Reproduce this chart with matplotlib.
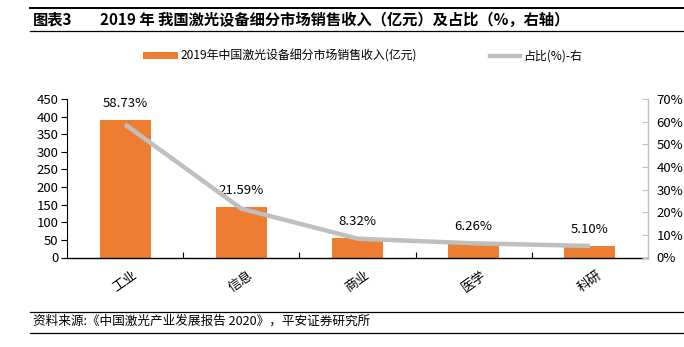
import matplotlib
matplotlib.use("Agg")
import matplotlib.pyplot as plt
from matplotlib.lines import Line2D
from matplotlib.patches import Patch
from matplotlib.ticker import FuncFormatter

plt.rcParams['font.family'] = ['Noto Sans CJK SC', 'DejaVu Sans']

categories = ['工业', '信息', '商业', '医学', '科研']
revenue = [390.0, 143.4, 55.3, 41.6, 33.9]          # 亿元
share = [58.73, 21.59, 8.32, 6.26, 5.10]             # %
left_ticks = list(range(0, 451, 50))
right_ticks = list(range(0, 71, 10))

ORANGE = '#ED7D31'
GREY = '#BFBFBF'

W, H = 684.0, 347.0
fig = plt.figure(figsize=(W / 100, H / 100), dpi=100)


def hrule(y, x0, x1, lw):
    fig.add_artist(Line2D([x0 / W, x1 / W], [1 - y / H, 1 - y / H],
                          transform=fig.transFigure, color='black', lw=lw))


# header and footer rules
hrule(7.5, 30, W, 1.4)
hrule(31, 30, W, 0.9)
hrule(312, 30, W, 0.9)
hrule(333, 30, W, 0.9)

fig.text(33 / W, 1 - 19.5 / H, '图表3', fontsize=11, fontweight='bold', va='center')
fig.text(100 / W, 1 - 19.5 / H, '2019 年 我国激光设备细分市场销售收入（亿元）及占比（%，右轴）',
         fontsize=11, fontweight='bold', va='center')
fig.text(33 / W, 1 - 321.5 / H, '资料来源:《中国激光产业发展报告 2020》，平安证券研究所',
         fontsize=9.1, va='center', style='italic')

ax = fig.add_axes([67 / W, 1 - 257.5 / H, (648 - 67) / W, 158.5 / H])
x = list(range(len(categories)))
ax.bar(x, revenue, width=0.44, color=ORANGE, zorder=2)
ax.set_xlim(-0.5, len(categories) - 0.5)
ax.set_ylim(0, 450)
ax.set_yticks(left_ticks)
ax.tick_params(axis='y', direction='out', length=4, labelsize=9.5, pad=2)
for s in ['top', 'right']:
    ax.spines[s].set_visible(False)
ax.spines['left'].set_linewidth(0.8)
ax.spines['bottom'].set_linewidth(1.0)

# category separators on the x axis
ax.set_xticks([i + 0.5 for i in x[:-1]], minor=True)
ax.tick_params(axis='x', which='minor', direction='in', length=4, width=0.8)
ax.set_xticks(x)
ax.set_xticklabels(categories, rotation=35, fontsize=9.5, ha='center')
ax.tick_params(axis='x', which='major', length=0, pad=8)

ax2 = ax.twinx()
ax2.plot(x, share, color=GREY, lw=3.2, zorder=3, solid_capstyle='butt')
ax2.set_ylim(0, 70)
ax2.set_yticks(right_ticks)
ax2.yaxis.set_major_formatter(FuncFormatter(lambda v, p: f'{v:.0f}%'))
ax2.tick_params(axis='y', direction='in', length=4, color=GREY,
                labelsize=9.5, pad=6)
for s in ['top', 'left', 'bottom']:
    ax2.spines[s].set_visible(False)
ax2.spines['right'].set_color(GREY)
ax2.spines['right'].set_linewidth(1.0)

for xi, r, s in zip(x, revenue, share):
    ax.annotate(f'{s:.2f}%', (xi, r), xytext=(0, 7), textcoords='offset points',
                ha='center', va='bottom', fontsize=9.5, zorder=5)

# legend entries placed individually
leg_kw = dict(loc='center left', frameon=False, fontsize=8.6, borderpad=0,
              borderaxespad=0, handleheight=0.5)
leg1 = fig.legend([Patch(facecolor=ORANGE, edgecolor='none')],
                  ['2019年中国激光设备细分市场销售收入(亿元)'],
                  bbox_to_anchor=(143 / W, 1 - 56 / H), handlelength=2.95,
                  handletextpad=0.17, **leg_kw)
leg2 = fig.legend([Line2D([], [], color=GREY, lw=3.2)], ['占比(%)-右'],
                  bbox_to_anchor=(490 / W, 1 - 56 / H), handlelength=2.5,
                  handletextpad=0.25, **leg_kw)

fig.savefig('out.png', dpi=100)
